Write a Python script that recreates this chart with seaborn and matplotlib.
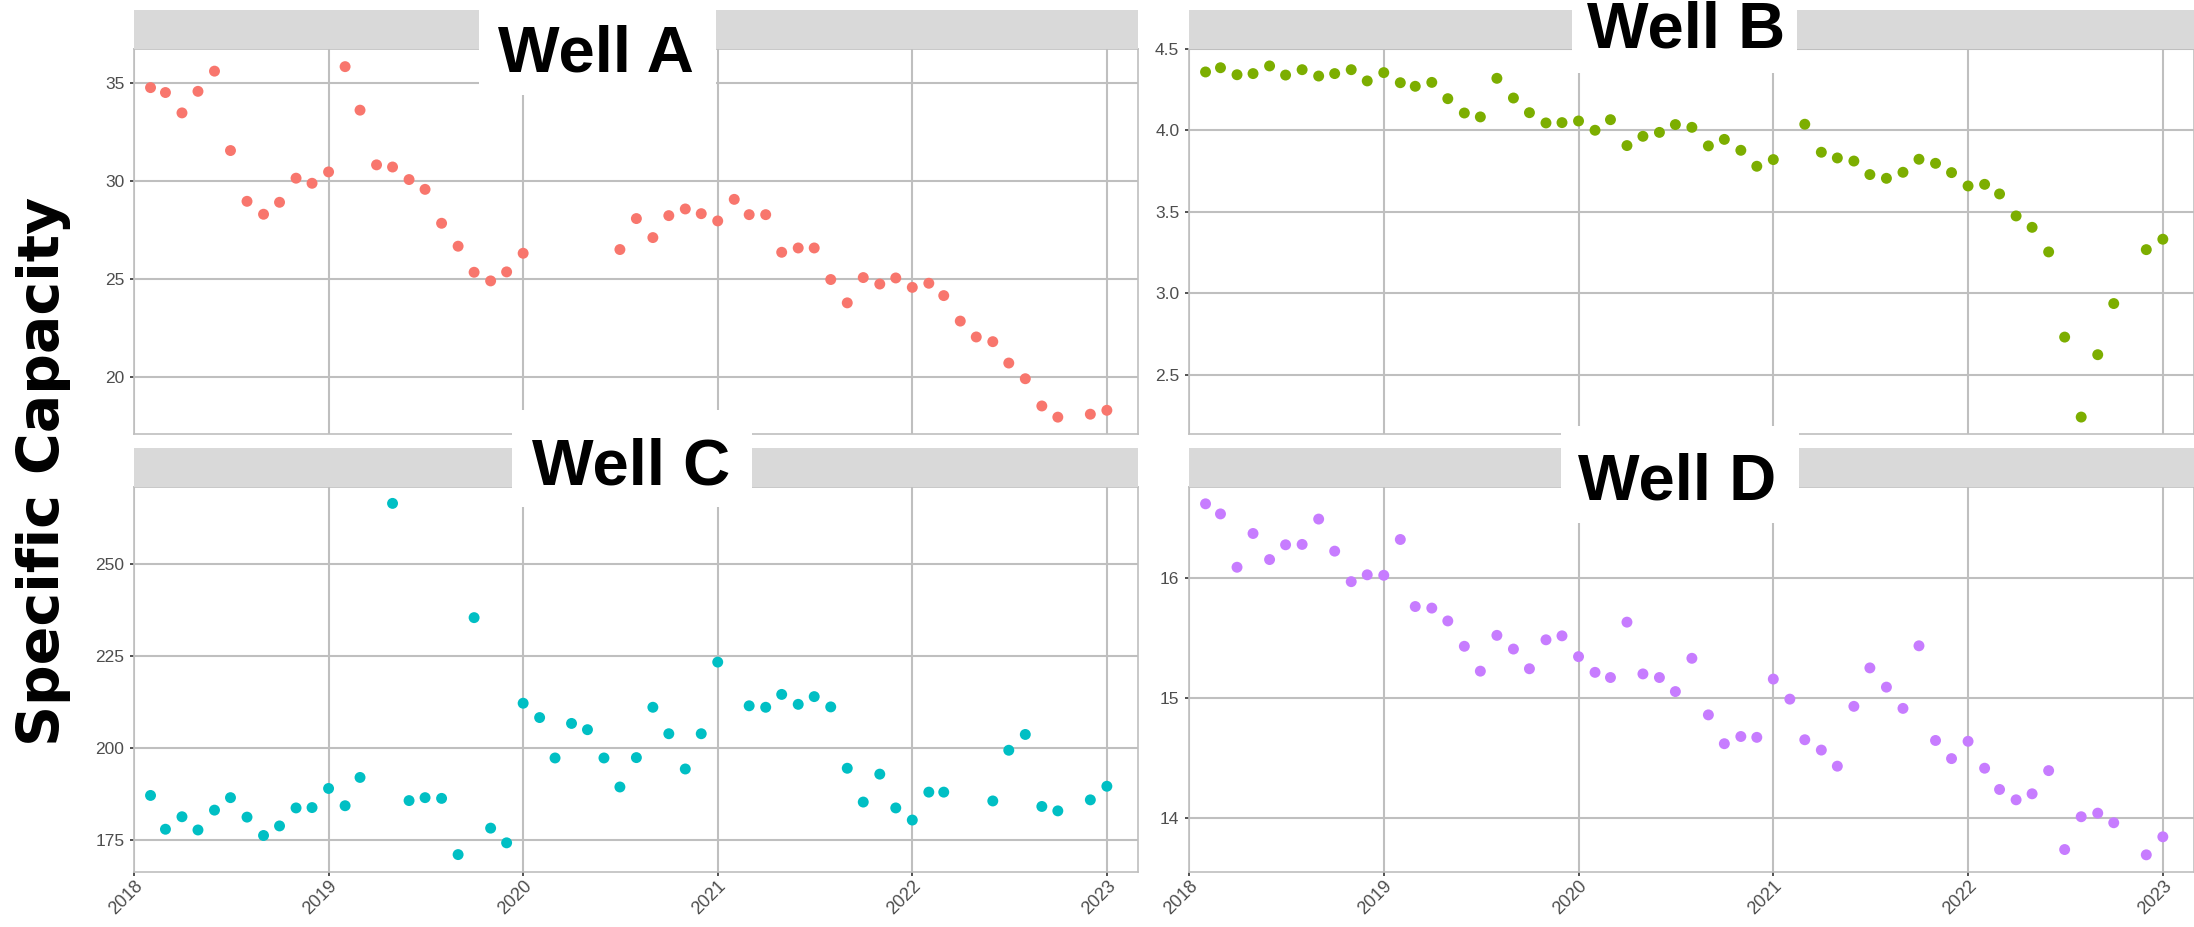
import matplotlib
matplotlib.use('Agg')
import matplotlib.pyplot as plt
import seaborn as sns
import pandas as pd
from matplotlib.patches import Rectangle

# month-end readings, Jan 2018 .. Dec 2022 (None = no reading)
months = pd.date_range('2018-01-31', periods=60, freq='ME')

well_a = [34.76, 34.51, 33.47, 34.57, 35.60, 31.55, 28.96, 28.30, 28.91, 30.14, 29.88, 30.46,
          35.83, 33.61, 30.82, 30.71, 30.07, 29.57, 27.84, 26.67, 25.34, 24.90, 25.36, 26.31,
          None, None, None, None, None, 26.50, 28.08, 27.11, 28.23, 28.57, 28.33, 27.96,
          29.06, 28.28, 28.28, 26.36, 26.58, 26.58, 24.97, 23.78, 25.07, 24.74, 25.05, 24.57,
          24.78, 24.15, 22.85, 22.04, 21.80, 20.71, 19.91, 18.52, 17.95, None, 18.10, 18.30]

well_b = [4.359, 4.385, 4.342, 4.349, 4.396, 4.340, 4.373, 4.334, 4.349, 4.373, 4.304, 4.355,
          4.293, 4.271, 4.295, 4.195, 4.107, 4.083, 4.320, 4.199, 4.109, 4.046, 4.048, 4.058,
          4.001, 4.066, 3.907, 3.964, 3.988, 4.036, 4.019, 3.905, 3.945, 3.878, 3.780, 3.821,
          None, 4.038, 3.866, 3.831, 3.812, 3.729, 3.706, 3.743, 3.823, 3.798, 3.741, 3.659,
          3.669, 3.610, 3.475, 3.405, 3.254, 2.731, 2.240, 2.623, 2.937, None, 3.268, 3.332]

well_c = [187.0, 177.8, 181.2, 177.6, 183.0, 186.4, 181.1, 176.1, 178.7, 183.6, 183.7, 188.9,
          184.2, 191.9, None, 266.5, 185.6, 186.4, 186.2, 170.9, 235.4, 178.1, 174.1, 212.1,
          208.2, 197.2, 206.6, 204.9, 197.2, 189.3, 197.3, 211.0, 203.8, 194.2, 203.8, 223.3,
          None, 211.4, 211.0, 214.5, 211.8, 213.9, 211.1, 194.4, 185.2, 192.8, 183.6, 180.3,
          187.9, 187.9, None, None, 185.5, 199.3, 203.6, 184.0, 182.8, None, 185.8, 189.5]

well_d = [16.618, 16.534, 16.090, 16.371, 16.154, 16.277, 16.280, 16.491, 16.224, 15.970, 16.027, 16.023,
          16.321, 15.763, 15.750, 15.643, 15.432, 15.225, 15.523, 15.409, 15.245, 15.486, 15.519, 15.346,
          15.215, 15.172, 15.633, 15.202, 15.172, 15.055, 15.332, 14.861, 14.621, 14.681, 14.674, 15.159,
          14.992, 14.654, 14.568, 14.434, 14.932, 15.252, 15.092, 14.915, 15.436, 14.648, 14.497, 14.641,
          14.417, 14.240, 14.154, 14.204, 14.397, 13.740, 14.013, 14.043, 13.963, None, 13.696, 13.846]

wells = ['Well A', 'Well B', 'Well C', 'Well D']
colors = ['#F8766D', '#7CAE00', '#00BFC4', '#C77CFF']
year_ticks = [2018, 2019, 2020, 2021, 2022, 2023]

frames = []
for name, vals in zip(wells, [well_a, well_b, well_c, well_d]):
    frames.append(pd.DataFrame({'date': months, 'value': vals, 'well': name}))
df = pd.concat(frames).dropna()
d = df['date']
df['t'] = d.dt.year + d.dt.dayofyear / (365 + d.dt.is_leap_year.astype(int))

sns.set_style('white')
plt.rcParams['font.family'] = ['Liberation Sans', 'DejaVu Sans']

W, H = 2194, 927
fig = plt.figure(figsize=(W / 100, H / 100), dpi=100)


def frect(x0, y0, x1, y1):
    return [x0 / W, 1 - y1 / H, (x1 - x0) / W, (y1 - y0) / H]


# pixel layout: panel box, strip box, label box, label centre x, label baseline
layout = {
    'Well A': dict(panel=(134, 49, 1138, 434), strip=(134, 10, 1138, 49),
                   box=(479, 0, 716, 95), tx=596, base=72,
                   ylim=(17.09, 36.73), yticks=[20, 25, 30, 35], fmt='{:.0f}'),
    'Well B': dict(panel=(1189, 49, 2194, 434), strip=(1189, 10, 2194, 49),
                   box=(1572, 0, 1797, 73), tx=1686, base=48,
                   ylim=(2.136, 4.497), yticks=[2.5, 3.0, 3.5, 4.0, 4.5], fmt='{:.1f}'),
    'Well C': dict(panel=(134, 487, 1138, 872), strip=(134, 448, 1138, 487),
                   box=(512, 410, 752, 507), tx=631, base=484,
                   ylim=(166.16, 270.96), yticks=[175, 200, 225, 250], fmt='{:.0f}'),
    'Well D': dict(panel=(1189, 487, 2194, 872), strip=(1189, 448, 2194, 487),
                   box=(1561, 426, 1799, 523), tx=1677, base=499,
                   ylim=(13.553, 16.758), yticks=[14, 15, 16], fmt='{:.0f}'),
}

grid_col = '#BFBFBF'
for i, name in enumerate(wells):
    lay = layout[name]
    ax = fig.add_axes(frect(*lay['panel']))
    sub = df[df['well'] == name]
    sns.scatterplot(data=sub, x='t', y='value', ax=ax, color=colors[i],
                    s=62, edgecolor='none', linewidth=0, legend=False, zorder=3)
    ax.set_xlim(2018, 2023.16)
    ax.set_ylim(*lay['ylim'])
    ax.set_xticks(year_ticks)
    ax.set_yticks(lay['yticks'])
    ax.set_yticklabels([lay['fmt'].format(v) for v in lay['yticks']])
    ax.grid(True, color=grid_col, linewidth=1.5, zorder=0)
    ax.set_axisbelow(True)
    ax.set_xlabel('')
    ax.set_ylabel('')
    for sp in ax.spines.values():
        sp.set_color(grid_col)
        sp.set_linewidth(1.2)
    ax.tick_params(axis='y', length=3, width=1.2, color='#333333',
                   labelcolor='#4D4D4D', labelsize=12.5, pad=4, left=True)
    if i < 2:
        ax.tick_params(axis='x', length=0, labelbottom=False)
    else:
        ax.tick_params(axis='x', length=3, width=1.2, color='#333333',
                       labelcolor='#4D4D4D', labelsize=13, pad=1, bottom=True)
        ax.set_xticklabels([str(y) for y in year_ticks], rotation=45,
                           ha='right', va='top', rotation_mode='anchor')

    st = frect(*lay['strip'])
    fig.add_artist(Rectangle((st[0], st[1]), st[2], st[3], transform=fig.transFigure,
                             facecolor='#D9D9D9', edgecolor='none', zorder=4))
    bx = frect(*lay['box'])
    fig.add_artist(Rectangle((bx[0], bx[1]), bx[2], bx[3], transform=fig.transFigure,
                             facecolor='white', edgecolor='none', zorder=5))
    fig.text(lay['tx'] / W, 1 - lay['base'] / H, name, ha='center', va='baseline',
             fontsize=47, fontweight='bold', color='black', zorder=6)

fig.text(44 / W, 1 - 471 / H, 'Specific Capacity', rotation=90, ha='center', va='center',
         fontsize=41, fontweight='bold', family=['DejaVu Sans'], color='black')

fig.savefig('out.png', dpi=100, facecolor='white')
